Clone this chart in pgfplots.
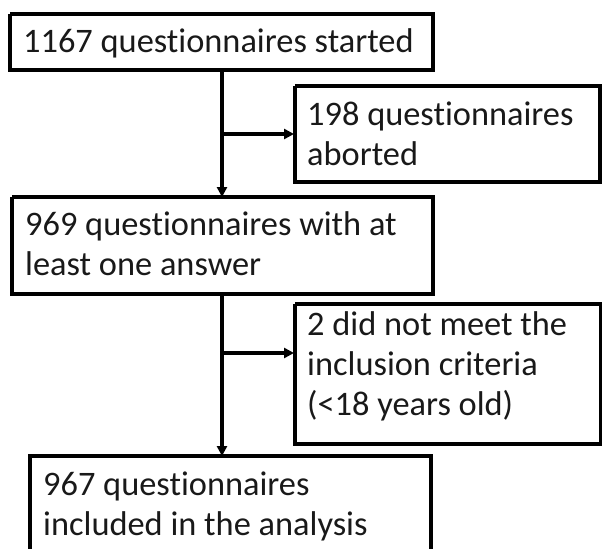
\documentclass[border=0pt]{standalone}
\usepackage{pgfplots}
\pgfplotsset{compat=1.18}
\usepackage{fontspec}
\setmainfont[Ligatures={NoCommon}]{Carlito}
\usetikzlibrary{arrows.meta}
\tikzset{txt/.style={anchor=base west, inner sep=0pt, font=\fontsize{34.5}{40}\selectfont, text=black!90}}
\pgfplotsset{bx/.style={draw=black, line width=3.2bp, mark=none, line join=miter}}
\begin{document}
\begin{tikzpicture}
\begin{axis}[
  scale only axis, width=602bp, height=549bp,
  xmin=0, xmax=602, ymin=0, ymax=549, y dir=reverse,
  hide axis, clip=true,
]
\addplot[draw=none, mark=none] coordinates {(0,0) (602,549)};
% boxes
\addplot[bx] coordinates {(10,14) (433,14) (433,70) (10,70) (10,14)};
\addplot[bx] coordinates {(295,86) (600,86) (600,182) (295,182) (295,86)};
\addplot[bx] coordinates {(12,197) (433,197) (433,294) (12,294) (12,197)};
\addplot[bx] coordinates {(295,304) (601,304) (601,444) (295,444) (295,304)};
\addplot[bx] coordinates {(30,570) (30,456) (431,456) (431,570)};
% connectors
\addplot[bx, -{Triangle[length=10bp,width=10bp]}, shorten >=-1bp] coordinates {(222,70) (222,196)};
\addplot[bx, -{Triangle[length=10bp,width=10bp]}] coordinates {(222,134) (294,134)};
\addplot[bx, -{Triangle[length=10bp,width=10bp]}, shorten >=-1bp] coordinates {(222,294) (222,455)};
\addplot[bx, -{Triangle[length=10bp,width=10bp]}] coordinates {(222,353) (294,353)};
% texts
\node[txt] at (axis cs:23,53) {1167 questionnaires started};
\node[txt] at (axis cs:307,125) {198 questionnaires};
\node[txt] at (axis cs:307,165) {aborted};
\node[txt] at (axis cs:25,235) {969 questionnaires with at};
\node[txt] at (axis cs:25,275) {least one answer};
\node[txt] at (axis cs:307,335) {2 did not meet the};
\node[txt] at (axis cs:307,375) {inclusion criteria};
\node[txt] at (axis cs:307,415) {(<18 years old)};
\node[txt] at (axis cs:43,495) {967 questionnaires};
\node[txt] at (axis cs:43,535) {included in the analysis};
\end{axis}
\end{tikzpicture}
\end{document}
